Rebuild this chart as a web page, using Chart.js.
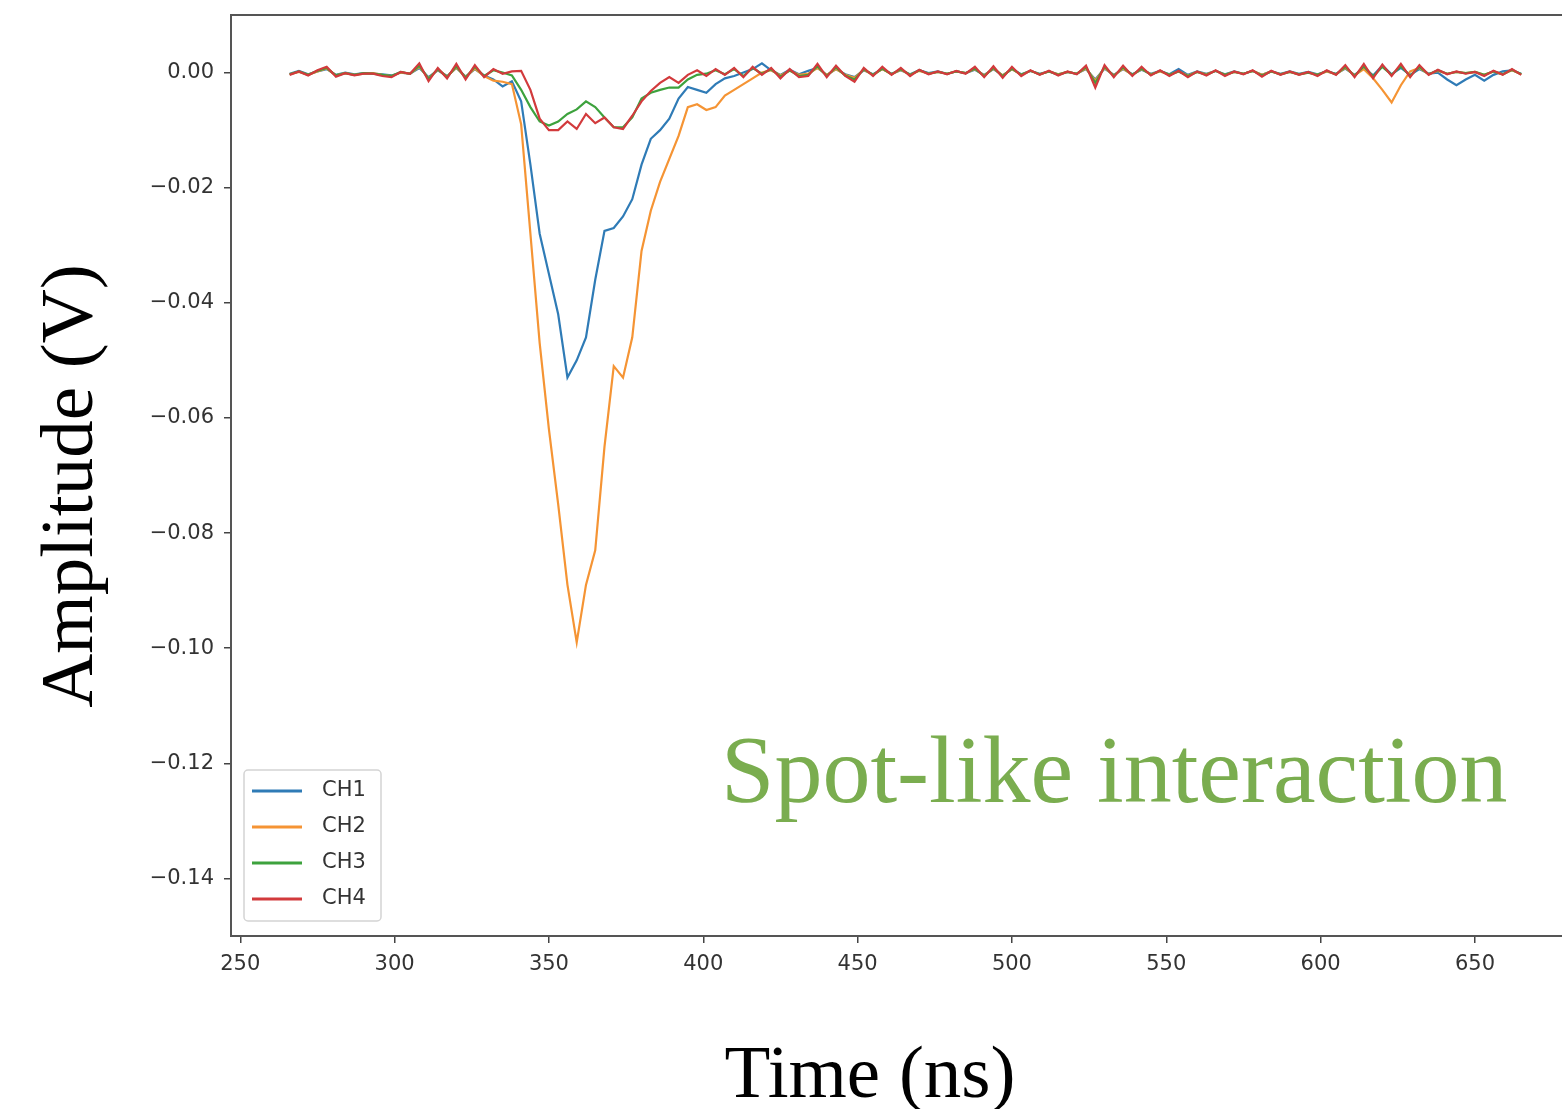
<!DOCTYPE html>
<html lang="en">
<head>
  <meta charset="UTF-8" />
  <title>Spot-like interaction</title>
  <script src="https://cdn.jsdelivr.net/npm/chart.js"></script>
  <style>
    body {
      margin: 0;
      background: #ffffff;
    }
    #wrap {
      position: relative;
      width: 1562px;
      height: 1109px;
    }
  </style>
</head>
<body>
  <div id="wrap"><canvas id="grafico"></canvas></div>

  <script>
    // sample times (ns)
    const time = [
      266, 269, 272, 275, 278, 281, 284, 287, 290, 293,
      296, 299, 302, 305, 308, 311, 314, 317, 320, 323,
      326, 329, 332, 335, 338, 341, 344, 347, 350, 353,
      356, 359, 362, 365, 368, 371, 374, 377, 380, 383,
      386, 389, 392, 395, 398, 401, 404, 407, 410, 413,
      416, 419, 422, 425, 428, 431, 434, 437, 440, 443,
      446, 449, 452, 455, 458, 461, 464, 467, 470, 473,
      476, 479, 482, 485, 488, 491, 494, 497, 500, 503,
      506, 509, 512, 515, 518, 521, 524, 527, 530, 533,
      536, 539, 542, 545, 548, 551, 554, 557, 560, 563,
      566, 569, 572, 575, 578, 581, 584, 587, 590, 593,
      596, 599, 602, 605, 608, 611, 614, 617, 620, 623,
      626, 629, 632, 635, 638, 641, 644, 647, 650, 653,
      656, 659, 662, 665
    ];

    // amplitudes (V), one value per sample time
    const ch1 = [
      -0.0002, 0.0003, -0.0003, 0.0002, 0.0006, -0.0004, 0.0000, -0.0003, -0.0001, -0.0002,
      -0.0003, -0.0005, 0.0000, -0.0002, 0.0008, -0.0008, 0.0004, -0.0006, 0.0008, -0.0007,
      0.0006, -0.0005, -0.0012, -0.0024, -0.0015, -0.0050, -0.0160, -0.0280, -0.0350, -0.0420,
      -0.0530, -0.0500, -0.0460, -0.0360, -0.0275, -0.0270, -0.0250, -0.0220, -0.0160, -0.0115,
      -0.0100, -0.0080, -0.0045, -0.0025, -0.0030, -0.0035, -0.0020, -0.0010, -0.0006, 0.0000,
      0.0006, 0.0016, 0.0004, -0.0004, 0.0005, -0.0003, 0.0003, 0.0008, -0.0004, 0.0006,
      -0.0003, -0.0008, 0.0004, -0.0003, 0.0006, -0.0002, 0.0004, -0.0003, 0.0004, -0.0001,
      0.0002, -0.0002, 0.0002, -0.0001, 0.0005, -0.0004, 0.0006, -0.0005, 0.0006, -0.0003,
      0.0003, -0.0002, 0.0002, -0.0003, 0.0001, -0.0002, 0.0006, -0.0012, 0.0007, -0.0004,
      0.0006, -0.0003, 0.0005, -0.0002, 0.0003, -0.0003, 0.0006, -0.0004, 0.0002, -0.0002,
      0.0003, -0.0003, 0.0002, -0.0002, 0.0003, -0.0004, 0.0002, -0.0002, 0.0002, -0.0002,
      0.0001, -0.0003, 0.0002, -0.0002, 0.0007, -0.0004, 0.0008, -0.0005, 0.0012, -0.0003,
      0.0008, -0.0004, 0.0006, -0.0002, 0.0000, -0.0012, -0.0022, -0.0012, -0.0004, -0.0014,
      -0.0004, 0.0002, 0.0004, -0.0002
    ];
    const ch2 = [
      -0.0003, 0.0001, -0.0004, 0.0002, 0.0007, -0.0005, -0.0001, -0.0004, -0.0002, -0.0001,
      -0.0004, -0.0006, 0.0000, -0.0002, 0.0010, -0.0010, 0.0005, -0.0007, 0.0009, -0.0008,
      0.0007, -0.0006, -0.0014, -0.0016, -0.0020, -0.0090, -0.0280, -0.0470, -0.0620, -0.0750,
      -0.0890, -0.0990, -0.0890, -0.0830, -0.0650, -0.0510, -0.0530, -0.0460, -0.0310, -0.0240,
      -0.0190, -0.0150, -0.0110, -0.0060, -0.0055, -0.0065, -0.0060, -0.0040, -0.0030, -0.0020,
      -0.0010, 0.0000, 0.0004, -0.0005, 0.0003, -0.0004, -0.0002, 0.0008, -0.0004, 0.0006,
      -0.0004, -0.0009, 0.0005, -0.0004, 0.0006, -0.0003, 0.0005, -0.0004, 0.0003, -0.0002,
      0.0001, -0.0002, 0.0002, -0.0001, 0.0006, -0.0005, 0.0007, -0.0005, 0.0006, -0.0004,
      0.0003, -0.0003, 0.0002, -0.0003, 0.0001, -0.0002, 0.0007, -0.0014, 0.0008, -0.0005,
      0.0007, -0.0004, 0.0006, -0.0003, 0.0002, -0.0004, 0.0002, -0.0005, 0.0001, -0.0003,
      0.0003, -0.0004, 0.0001, -0.0002, 0.0003, -0.0004, 0.0002, -0.0003, 0.0001, -0.0003,
      0.0000, -0.0004, 0.0002, -0.0003, 0.0008, -0.0005, 0.0006, -0.0010, -0.0030, -0.0052,
      -0.0022, 0.0002, 0.0008, -0.0003, 0.0003, -0.0002, 0.0001, -0.0001, 0.0001, -0.0004,
      0.0002, -0.0003, 0.0004, -0.0003
    ];
    const ch3 = [
      -0.0003, 0.0002, -0.0004, 0.0003, 0.0008, -0.0005, -0.0001, -0.0004, -0.0001, -0.0002,
      -0.0004, -0.0006, 0.0001, -0.0002, 0.0012, -0.0011, 0.0006, -0.0008, 0.0011, -0.0009,
      0.0010, -0.0006, 0.0004, 0.0000, -0.0005, -0.0030, -0.0060, -0.0085, -0.0092, -0.0085,
      -0.0072, -0.0064, -0.0050, -0.0060, -0.0078, -0.0095, -0.0095, -0.0078, -0.0045, -0.0035,
      -0.0030, -0.0026, -0.0026, -0.0012, -0.0004, -0.0002, 0.0004, -0.0003, 0.0006, -0.0006,
      0.0008, -0.0002, 0.0006, -0.0007, 0.0004, -0.0006, -0.0004, 0.0011, -0.0006, 0.0009,
      -0.0005, -0.0012, 0.0006, -0.0004, 0.0007, -0.0003, 0.0006, -0.0004, 0.0004, -0.0002,
      0.0001, -0.0002, 0.0002, -0.0001, 0.0007, -0.0006, 0.0008, -0.0006, 0.0007, -0.0004,
      0.0003, -0.0003, 0.0002, -0.0004, 0.0001, -0.0002, 0.0009, -0.0018, 0.0010, -0.0006,
      0.0009, -0.0004, 0.0007, -0.0004, 0.0003, -0.0004, 0.0002, -0.0006, 0.0001, -0.0004,
      0.0003, -0.0004, 0.0001, -0.0002, 0.0003, -0.0005, 0.0002, -0.0003, 0.0001, -0.0003,
      0.0000, -0.0004, 0.0003, -0.0003, 0.0010, -0.0006, 0.0011, -0.0007, 0.0010, -0.0004,
      0.0011, -0.0006, 0.0010, -0.0003, 0.0004, -0.0002, 0.0001, -0.0001, 0.0001, -0.0004,
      0.0002, -0.0003, 0.0005, -0.0003
    ];
    const ch4 = [
      -0.0004, 0.0002, -0.0005, 0.0004, 0.0010, -0.0007, -0.0001, -0.0005, -0.0002, -0.0002,
      -0.0006, -0.0008, 0.0001, -0.0002, 0.0016, -0.0015, 0.0008, -0.0010, 0.0015, -0.0012,
      0.0013, -0.0008, 0.0006, -0.0002, 0.0002, 0.0003, -0.0030, -0.0080, -0.0100, -0.0100,
      -0.0085, -0.0098, -0.0072, -0.0088, -0.0078, -0.0095, -0.0098, -0.0075, -0.0050, -0.0032,
      -0.0018, -0.0008, -0.0018, -0.0004, 0.0004, -0.0006, 0.0006, -0.0004, 0.0008, -0.0008,
      0.0010, -0.0004, 0.0008, -0.0010, 0.0006, -0.0008, -0.0006, 0.0015, -0.0008, 0.0012,
      -0.0006, -0.0016, 0.0008, -0.0006, 0.0010, -0.0004, 0.0008, -0.0006, 0.0005, -0.0003,
      0.0002, -0.0003, 0.0003, -0.0002, 0.0010, -0.0008, 0.0011, -0.0009, 0.0010, -0.0006,
      0.0004, -0.0004, 0.0003, -0.0005, 0.0002, -0.0003, 0.0012, -0.0026, 0.0013, -0.0008,
      0.0012, -0.0006, 0.0010, -0.0005, 0.0004, -0.0006, 0.0003, -0.0008, 0.0002, -0.0005,
      0.0004, -0.0006, 0.0002, -0.0003, 0.0004, -0.0007, 0.0003, -0.0004, 0.0002, -0.0004,
      0.0001, -0.0006, 0.0004, -0.0004, 0.0013, -0.0008, 0.0015, -0.0010, 0.0014, -0.0006,
      0.0015, -0.0008, 0.0013, -0.0004, 0.0005, -0.0003, 0.0002, -0.0002, 0.0001, -0.0006,
      0.0003, -0.0004, 0.0006, -0.0004
    ];

    const canais = ['CH1', 'CH2', 'CH3', 'CH4'];
    const xTicks = [250, 300, 350, 400, 450, 500, 550, 600, 650];
    const yTicks = [0.00, -0.02, -0.04, -0.06, -0.08, -0.10, -0.12, -0.14];

    const cores = ['#2f7bb6', '#f59434', '#3da23d', '#d23a3c'];
    const series = [ch1, ch2, ch3, ch4];

    const tickFont = { family: 'DejaVu Sans', size: 21 };
    const serif = 'Liberation Serif';

    // top frame line, legend box, axis titles and the annotation
    const extras = {
      id: 'extras',
      afterDraw(chart) {
        const { ctx, chartArea: a } = chart;
        ctx.save();

        ctx.strokeStyle = '#555';
        ctx.lineWidth = 2;
        ctx.beginPath();
        ctx.moveTo(a.left, a.top);
        ctx.lineTo(a.right, a.top);
        ctx.stroke();

        // legend
        const lx = a.left + 13, ly = a.bottom - 166;
        ctx.fillStyle = 'rgba(255,255,255,0.85)';
        ctx.strokeStyle = '#d4d4d4';
        ctx.lineWidth = 1.5;
        ctx.beginPath();
        ctx.roundRect(lx, ly, 137, 151, 4);
        ctx.fill();
        ctx.stroke();
        ctx.font = '21px "DejaVu Sans"';
        ctx.textBaseline = 'middle';
        ctx.textAlign = 'left';
        chart.data.datasets.forEach((ds, i) => {
          const y = ly + 21 + i * 36;
          ctx.strokeStyle = ds.borderColor;
          ctx.lineWidth = 3;
          ctx.beginPath();
          ctx.moveTo(lx + 8, y);
          ctx.lineTo(lx + 58, y);
          ctx.stroke();
          ctx.fillStyle = '#333';
          ctx.fillText(ds.label, lx + 78, y);
        });

        // axis titles
        ctx.fillStyle = '#000';
        ctx.font = '75px "' + serif + '"';
        ctx.textBaseline = 'alphabetic';
        ctx.textAlign = 'center';
        ctx.fillText('Time (ns)', 870, 1097);
        ctx.save();
        ctx.translate(92, 486);
        ctx.rotate(-Math.PI / 2);
        ctx.fillText('Amplitude (V)', 0, 0);
        ctx.restore();

        // annotation
        ctx.fillStyle = '#7aad4f';
        ctx.font = '96px "' + serif + '"';
        ctx.textAlign = 'left';
        ctx.fillText('Spot-like interaction', 721, 802);

        ctx.restore();
      }
    };

    const ctx = document.getElementById('grafico').getContext('2d');
    new Chart(ctx, {
      type: 'line',
      data: {
        datasets: canais.map((nome, i) => ({
          label: nome,
          data: time.map((t, k) => ({ x: t, y: series[i][k] })),
          borderColor: cores[i],
          borderWidth: 2.2,
          pointRadius: 0,
          tension: 0,
          order: 4 - i
        }))
      },
      options: {
        responsive: true,
        maintainAspectRatio: false,
        animation: false,
        layout: { padding: { top: 15, right: 0, left: 0, bottom: 0 } },
        plugins: {
          legend: { display: false },
          tooltip: { enabled: false }
        },
        scales: {
          x: {
            type: 'linear',
            min: 247,
            max: 678.2,
            afterBuildTicks: s => { s.ticks = xTicks.map(v => ({ value: v })); },
            afterFit: s => {
              s.height = 173;
              s.paddingLeft = 0;
              s.paddingRight = 0;
            },
            ticks: {
              font: tickFont,
              color: '#333',
              padding: 9,
              maxRotation: 0,
              callback: v => String(v)
            },
            grid: { drawOnChartArea: false, tickLength: 7, color: '#444', lineWidth: 1.5 },
            border: { display: true, color: '#555', width: 2 }
          },
          y: {
            min: -0.15,
            max: 0.01,
            afterBuildTicks: s => { s.ticks = yTicks.map(v => ({ value: v })); },
            afterFit: s => {
              s.width = 231;
              s.paddingTop = 0;
              s.paddingBottom = 0;
            },
            ticks: {
              font: tickFont,
              color: '#333',
              padding: 10,
              callback: v => (v < -1e-9 ? '\u2212' : '') + Math.abs(v).toFixed(2)
            },
            grid: { drawOnChartArea: false, tickLength: 7, color: '#444', lineWidth: 1.5 },
            border: { display: true, color: '#555', width: 2 }
          }
        }
      },
      plugins: [extras]
    });
  </script>
</body>
</html>
